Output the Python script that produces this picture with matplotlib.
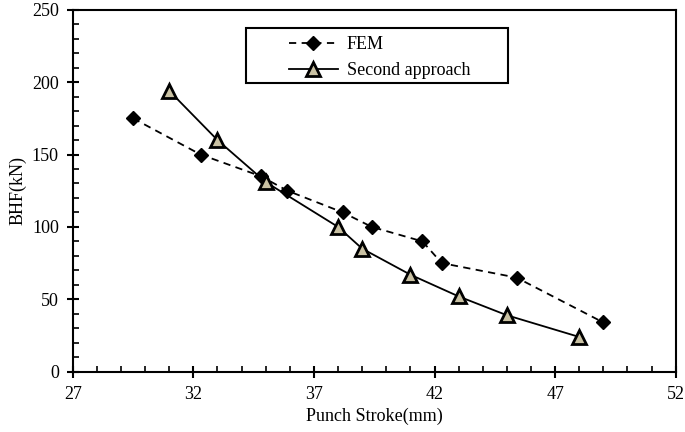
import matplotlib.pyplot as plt
from matplotlib.patches import Rectangle

plt.rcParams['font.family'] = ['Liberation Serif', 'DejaVu Serif']

# Dane
fem_x = [29.5, 32.3, 34.8, 35.9, 38.2, 39.4, 41.5, 42.3, 45.4, 49.0]
fem_y = [175, 150, 135, 125, 110, 100, 90, 75, 65, 34]
second_x = [31.0, 33.0, 35.0, 38.0, 39.0, 41.0, 43.0, 45.0, 48.0]
second_y = [194, 160, 131, 100, 85, 67, 52, 39, 24]
x_ticks = [27, 32, 37, 42, 47, 52]
y_ticks = [0, 50, 100, 150, 200, 250]

W, H = 685, 432
fig = plt.figure(figsize=(W / 100, H / 100), dpi=100)
ax = fig.add_axes([72.7 / W, 1 - 371.7 / H, 603 / W, 362 / H])

ax.plot(fem_x, fem_y, color='black', linestyle=(0, (4, 3)), linewidth=1.3,
        marker='D', markersize=7, markerfacecolor='black', markeredgecolor='black',
        label='FEM')
ax.plot(second_x, second_y, color='black', linewidth=1.3,
        marker='^', markersize=10, markerfacecolor='#c9c1a3', markeredgecolor='black',
        markeredgewidth=2, label='Second approach')

ax.set_xlim(27, 52)
ax.set_ylim(0, 250)
ax.set_xticks(x_ticks)
ax.set_xticks(range(27, 53), minor=True)
ax.set_yticks(y_ticks)
ax.set_yticks(range(0, 251, 10), minor=True)
ax.tick_params(which='major', direction='inout', length=8, width=1.5, labelsize=13, pad=6)
ax.tick_params(which='minor', direction='in', length=4, width=1.2)
for s in ax.spines.values():
    s.set_linewidth(1.5)

ax.set_xlabel('Punch Stroke(mm)', fontsize=13, labelpad=4)
ax.set_ylabel('BHF(kN)', fontsize=13, labelpad=4)

# Legenda bez ramki + osobny prostokąt jako ramka
leg = ax.legend(loc='upper left', bbox_to_anchor=(289 / W, 1 - 36 / H),
                bbox_transform=fig.transFigure, fontsize=13, frameon=False,
                borderpad=0, borderaxespad=0, handlelength=2.7, handletextpad=0.5,
                labelspacing=0.5)
fig.patches.append(Rectangle((246 / W, 1 - 83 / H), 262 / W, 55 / H,
                             transform=fig.transFigure, fill=False,
                             edgecolor='black', linewidth=1.5))

fig.savefig('out.png', dpi=100)
